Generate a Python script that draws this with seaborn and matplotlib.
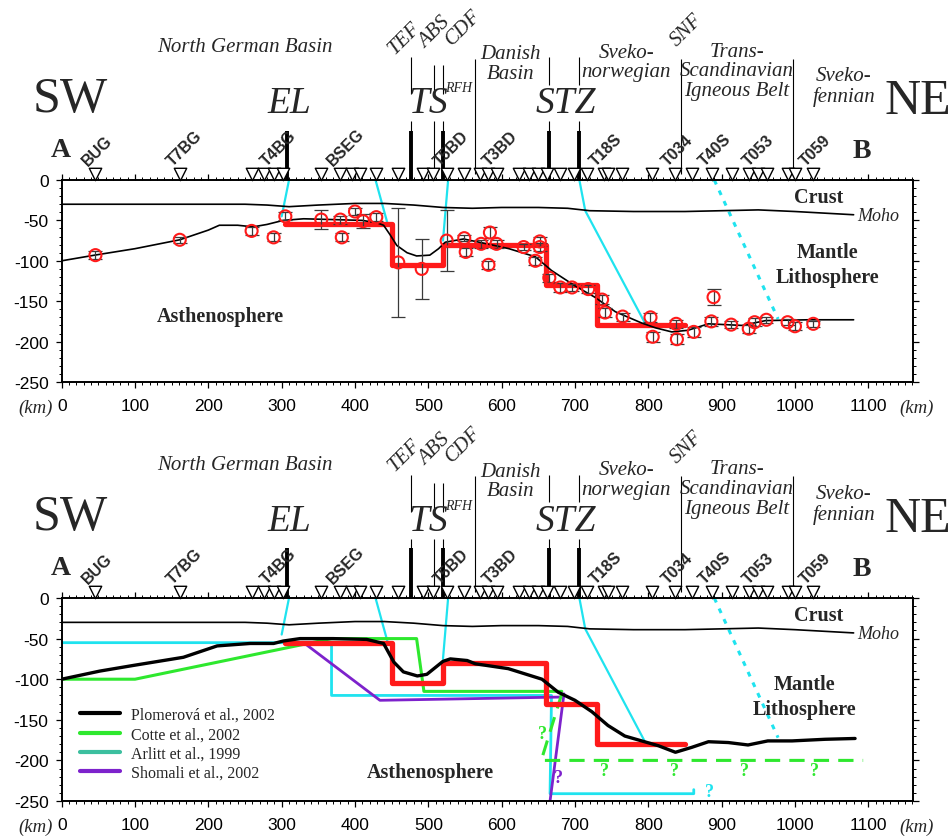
import numpy as np
import pandas as pd
import matplotlib
matplotlib.use('Agg')
import matplotlib.pyplot as plt
import matplotlib.transforms as mtransforms
from matplotlib.ticker import MultipleLocator
from matplotlib.lines import Line2D
import seaborn as sns

# ---------------- data ----------------
x_ticks = [0, 100, 200, 300, 400, 500, 600, 700, 800, 900, 1000, 1100]
y_ticks = [-250, -200, -150, -100, -50, 0]

moho_x = [0, 250, 280, 310, 350, 400, 440, 480, 520, 560, 600, 650, 690, 720, 780, 850, 900, 950, 1000, 1040, 1080]
moho_y = [-30, -30, -31, -33, -31, -29, -29, -31, -34, -35, -34, -34, -35, -38, -39, -39, -38, -37, -39, -41, -43]

lab_top_x = [0, 45, 100, 161, 200, 215, 240, 261, 280, 302, 330, 370, 410, 430, 439, 448, 457, 471, 484, 502, 514, 523,
             548, 580, 610, 646, 668, 700, 727, 755, 791, 810, 832, 854, 882, 928, 960, 1018, 1080]
lab_top_y = [-100, -93, -85, -74, -62, -56, -56, -58, -55, -50, -48, -49, -50, -53, -56, -68, -81, -90, -94, -93, -85, -77,
             -73, -79, -85, -95, -112, -131, -145, -163, -177, -183, -188, -186, -178, -180, -174, -173, -173]

lab_bot_x = [0, 52, 98, 166, 212, 257, 289, 302, 325, 370, 416, 439, 453, 466, 485, 498, 520, 530, 553, 564, 609, 655,
             677, 700, 723, 745, 768, 791, 814, 837, 859, 882, 909, 936, 963, 996, 1041, 1082]
lab_bot_y = [-100, -90, -83, -73, -59, -56, -56, -53, -50, -50, -51, -56, -79, -91, -96, -94, -78, -75, -77, -81, -87, -100,
             -116, -126, -140, -157, -170, -176, -182, -190, -184, -177, -178, -181, -176, -176, -174, -173]

model_x = [305, 450, 520, 660, 730, 850]
model_y = [-55, -105, -80, -130, -180, -180]

obs_x = [46, 161, 259, 289, 305, 354, 380, 382, 400, 411, 429, 459, 491, 525, 549, 551, 572, 584, 582, 593, 630, 652, 652,
         646, 665, 680, 696, 718, 737, 741, 765, 803, 806, 838, 839, 862, 889, 886, 913, 937, 945, 961, 990, 1000, 1025]
obs_y = [-93, -74, -63, -71, -45, -49, -49, -71, -39, -51, -46, -102, -110, -75, -72, -89, -79, -65, -105, -79, -83, -76, -83,
         -100, -121, -133, -133, -135, -148, -164, -169, -170, -194, -178, -197, -188, -145, -175, -179, -184, -176, -173,
         -176, -181, -178]
obs_err = [5, 4, 5, 5, 5, 12, 5, 5, 4, 9, 5, 67, 37, 38, 4, 5, 5, 7, 5, 5, 4, 6, 5, 5, 5, 5, 4, 5, 6, 5, 5, 6, 6, 5, 6, 6,
           10, 6, 4, 5, 5, 4, 4, 5, 4]

cyan1_x, cyan1_y = [310, 300], [0, -45]
cyan2_x, cyan2_y = [428, 445], [0, -56]
cyan3_x, cyan3_y = [527, 520], [0, -75]
cyan4_x, cyan4_y = [706, 714, 796], [0, -38, -178]
cyan5_x, cyan5_y = [890, 977], [0, -172]

cotte_x = [0, 100, 368, 484, 494, 682]
cotte_y = [-100, -100, -50, -50, -115, -115]
cotte_dash_x = [682, 654, 1093]
cotte_dash_y = [-118, -200, -200]
arlitt_x = [0, 368, 368, 668, 666, 862, 862]
arlitt_y = [-55, -55, -120, -120, -241, -241, -236]
shomali_x = [330, 434, 680, 685, 666]
shomali_y = [-55, -126, -122, -118, -250]

green_q_x = [656, 740, 836, 931, 1027]
green_q_y = [-167, -213, -213, -213, -213]
purple_q = (677, -221)
cyan_q = (884, -238)

stations = [46, 161, 260, 276, 290, 302, 354, 380, 396, 407, 429, 459, 493, 506, 525, 548, 571, 582, 594, 623, 637, 650,
            662, 680, 698, 716, 739, 745, 764, 805, 837, 859, 887, 914, 937, 950, 962, 991, 1000, 1025]
station_names = ['BUG', 'T7BG', 'T4BG', 'BSEG', 'T5BD', 'T3BD', 'T18S', 'T034', 'T40S', 'T053', 'T059']
station_name_x = [46, 161, 290, 380, 525, 593, 739, 837, 887, 947, 1025]

thick_fault_x = [307, 477, 520, 665, 705]
lower_thin_x = [477, 508, 520, 665, 705]
upper_seg_x = [477, 508, 520, 665, 705]
upper_seg_lo = [106, 106, 106, 118, 118]
upper_seg_hi = [152, 142, 142, 152, 152]
bound_x = [563, 844, 997]

fault_labels = ['EL', 'TS', 'STZ']
fault_label_x = [310, 500, 687]
rot_labels = ['TEF', 'ABS', 'CDF', 'SNF']
rot_label_x = [467, 508, 548, 852]
rot_label_y = [176, 183, 189, 186]
region_labels = ['North German Basin', 'Danish\nBasin', 'Sveko-\nnorwegian', 'Trans-\nScandinavian\nIgneous Belt',
                 'Sveko-\nfennian']
region_x = [250, 612, 770, 921, 1067]
region_y = [165, 144, 146, 135, 116]

legend_labels = ['Plomerová et al., 2002', 'Cotte et al., 2002', 'Arlitt et al., 1999', 'Shomali et al., 2002']
legend_colors = ['#000000', '#2ee82e', '#3cbf9f', '#7d22cc']

# ---------------- style ----------------
sns.set_style('white')
plt.rcParams['font.family'] = ['Liberation Sans', 'DejaVu Sans']
plt.rcParams['axes.unicode_minus'] = False
SERIF = ['Liberation Serif', 'DejaVu Serif']
SANS = ['Liberation Sans', 'DejaVu Sans']
RED = '#ff1a1a'
CYAN = '#1fe3ef'
GREEN = '#2ee82e'
PURPLE = '#7d22cc'

fig = plt.figure(figsize=(9.5, 8.37), dpi=100)
fig.patch.set_facecolor('white')
ax_top = fig.add_axes([61.7 / 950, 1 - 383 / 837, (913 - 61.7) / 950, 202 / 837])
ax_bot = fig.add_axes([61.7 / 950, 1 - 802 / 837, (913 - 61.7) / 950, 203 / 837])


def style_axes(ax):
    ax.set_xlim(0, 1161)
    ax.set_ylim(-250, 0)
    ax.set_xticks(x_ticks)
    ax.set_yticks(y_ticks)
    ax.xaxis.set_minor_locator(MultipleLocator(10))
    ax.yaxis.set_minor_locator(MultipleLocator(10))
    ax.tick_params(which='both', direction='out', top=True, right=True, bottom=True, left=True,
                   labeltop=False, labelright=False, colors='k', width=0.9)
    ax.tick_params(which='major', length=4.5, labelsize=12.5)
    ax.tick_params(axis='x', which='major', pad=7)
    ax.tick_params(axis='y', which='major', pad=5)
    ax.tick_params(which='minor', length=2.3, width=0.7)
    for s in ax.spines.values():
        s.set_visible(True)
        s.set_color('k')
        s.set_linewidth(1.4)
    ax.set_xlabel('')
    ax.set_ylabel('')
    trans = mtransforms.blended_transform_factory(ax.transData, ax.transAxes)
    ax.text(-36, -0.125, '(km)', transform=trans, ha='center', va='center', family=SERIF,
            style='italic', fontsize=13.5)
    ax.text(1166, -0.125, '(km)', transform=trans, ha='center', va='center', family=SERIF,
            style='italic', fontsize=13.5)


def header(ax):
    ax.vlines(thick_fault_x, 0, 61, color='k', lw=2.8, clip_on=False, zorder=6)
    ax.vlines(lower_thin_x, 0, 73, color='k', lw=0.8, clip_on=False, zorder=6)
    ax.vlines(upper_seg_x, upper_seg_lo, upper_seg_hi, color='k', lw=0.8, clip_on=False)
    ax.vlines(bound_x, 8, 150, color='k', lw=0.8, clip_on=False)
    sns.scatterplot(x=stations, y=[7] * len(stations), marker='v', s=80, facecolor='white',
                    edgecolor='k', linewidth=1.0, clip_on=False, zorder=7, ax=ax, legend=False)
    for nm, sx in zip(station_names, station_name_x):
        ax.text(sx - 7, 15, nm, rotation=45, rotation_mode='anchor', ha='left', va='bottom',
                family=SANS, fontweight='bold', fontsize=11.5, zorder=8)
    for nm, fx in zip(fault_labels, fault_label_x):
        ax.text(fx, 95, nm, ha='center', va='center', family=SERIF, style='italic', fontsize=27)
    for nm, rx, ry in zip(rot_labels, rot_label_x, rot_label_y):
        ax.text(rx, ry, nm, rotation=45, ha='center', va='center', family=SERIF, style='italic', fontsize=15)
    ax.text(523, 114, 'RFH', ha='left', va='center', family=SERIF, style='italic', fontsize=10)
    for nm, rx, ry in zip(region_labels, region_x, region_y):
        ax.text(rx, ry, nm, ha='center', va='center', family=SERIF, style='italic', fontsize=15,
                linespacing=1.05)
    ax.text(12, 100, 'SW', ha='center', va='center', family=SERIF, fontsize=36)
    ax.text(1167, 98, 'NE', ha='center', va='center', family=SERIF, fontsize=36)
    ax.text(-1, 38, 'A', ha='center', va='center', family=SERIF, fontweight='bold', fontsize=20)
    ax.text(1091, 36, 'B', ha='center', va='center', family=SERIF, fontweight='bold', fontsize=20)


def common_lines(ax, lab_x, lab_y, lab_lw):
    for cx, cy in [(cyan1_x, cyan1_y), (cyan2_x, cyan2_y), (cyan3_x, cyan3_y), (cyan4_x, cyan4_y)]:
        sns.lineplot(x=cx, y=cy, sort=False, estimator=None, color=CYAN, lw=1.6, ax=ax, zorder=2)
    sns.lineplot(x=cyan5_x, y=cyan5_y, sort=False, estimator=None, color=CYAN, lw=2.2,
                 linestyle=(0, (1.6, 2.2)), ax=ax, zorder=2)
    sns.lineplot(x=moho_x, y=moho_y, sort=False, estimator=None, color='k', lw=1.2, ax=ax, zorder=3)
    sns.lineplot(x=model_x, y=model_y, sort=False, estimator=None, color=RED, lw=3.8,
                 drawstyle='steps-post', ax=ax, zorder=3)
    sns.lineplot(x=lab_x, y=lab_y, sort=False, estimator=None, color='k', lw=lab_lw, ax=ax, zorder=3.5)
    ax.text(1033, -21, 'Crust', ha='center', va='center', family=SERIF, fontweight='bold', fontsize=14.5)
    ax.text(1085, -44, 'Moho', ha='left', va='center', family=SERIF, style='italic', fontsize=13)


# ---------------- top panel ----------------
style_axes(ax_top)
header(ax_top)
common_lines(ax_top, lab_top_x, lab_top_y, 1.2)
ax_top.errorbar(obs_x, obs_y, yerr=obs_err, fmt='none', ecolor='#3a3a3a', elinewidth=0.9,
                capsize=5, capthick=0.9, zorder=4)
sns.scatterplot(x=obs_x, y=obs_y, marker='o', s=75, facecolor='none', edgecolor=RED, linewidth=1.5,
                ax=ax_top, zorder=5, legend=False)
ax_top.text(1045, -89, 'Mantle', ha='center', va='center', family=SERIF, fontweight='bold', fontsize=14.5)
ax_top.text(1045, -120, 'Lithosphere', ha='center', va='center', family=SERIF, fontweight='bold', fontsize=14.5)
ax_top.text(217, -168, 'Asthenosphere', ha='center', va='center', family=SERIF, fontweight='bold', fontsize=14.5)

# ---------------- bottom panel ----------------
style_axes(ax_bot)
header(ax_bot)
sns.lineplot(x=arlitt_x, y=arlitt_y, sort=False, estimator=None, color=CYAN, lw=2.0, ax=ax_bot, zorder=2)
sns.lineplot(x=shomali_x, y=shomali_y, sort=False, estimator=None, color=PURPLE, lw=2.0, ax=ax_bot, zorder=2.2)
sns.lineplot(x=cotte_x, y=cotte_y, sort=False, estimator=None, color=GREEN, lw=2.2, ax=ax_bot, zorder=2.4)
sns.lineplot(x=cotte_dash_x, y=cotte_dash_y, sort=False, estimator=None, color=GREEN, lw=2.2,
             linestyle=(0, (5, 3)), ax=ax_bot, zorder=2.4)
common_lines(ax_bot, lab_bot_x, lab_bot_y, 2.4)
for qx, qy in zip(green_q_x, green_q_y):
    ax_bot.text(qx, qy, '?', color=GREEN, ha='center', va='center', family=SERIF, fontweight='bold', fontsize=13)
ax_bot.text(purple_q[0], purple_q[1], '?', color=PURPLE, ha='center', va='center', family=SERIF,
            fontweight='bold', fontsize=13)
ax_bot.text(cyan_q[0], cyan_q[1], '?', color=CYAN, ha='center', va='center', family=SERIF,
            fontweight='bold', fontsize=13)
ax_bot.text(1013, -106, 'Mantle', ha='center', va='center', family=SERIF, fontweight='bold', fontsize=14.5)
ax_bot.text(1013, -137, 'Lithosphere', ha='center', va='center', family=SERIF, fontweight='bold', fontsize=14.5)
ax_bot.text(503, -214, 'Asthenosphere', ha='center', va='center', family=SERIF, fontweight='bold', fontsize=14.5)

handles = [Line2D([0], [0], color=c, lw=3) for c in legend_colors]
ax_bot.legend(handles, legend_labels, loc='upper left', bbox_to_anchor=(80 / 950, 1 - 708 / 837),
              bbox_transform=fig.transFigure, frameon=False, borderpad=0, borderaxespad=0,
              handlelength=2.5, handletextpad=0.7, labelspacing=0.2,
              prop={'family': SERIF, 'size': 11.5})

fig.savefig('out.png', dpi=100, facecolor='white')
